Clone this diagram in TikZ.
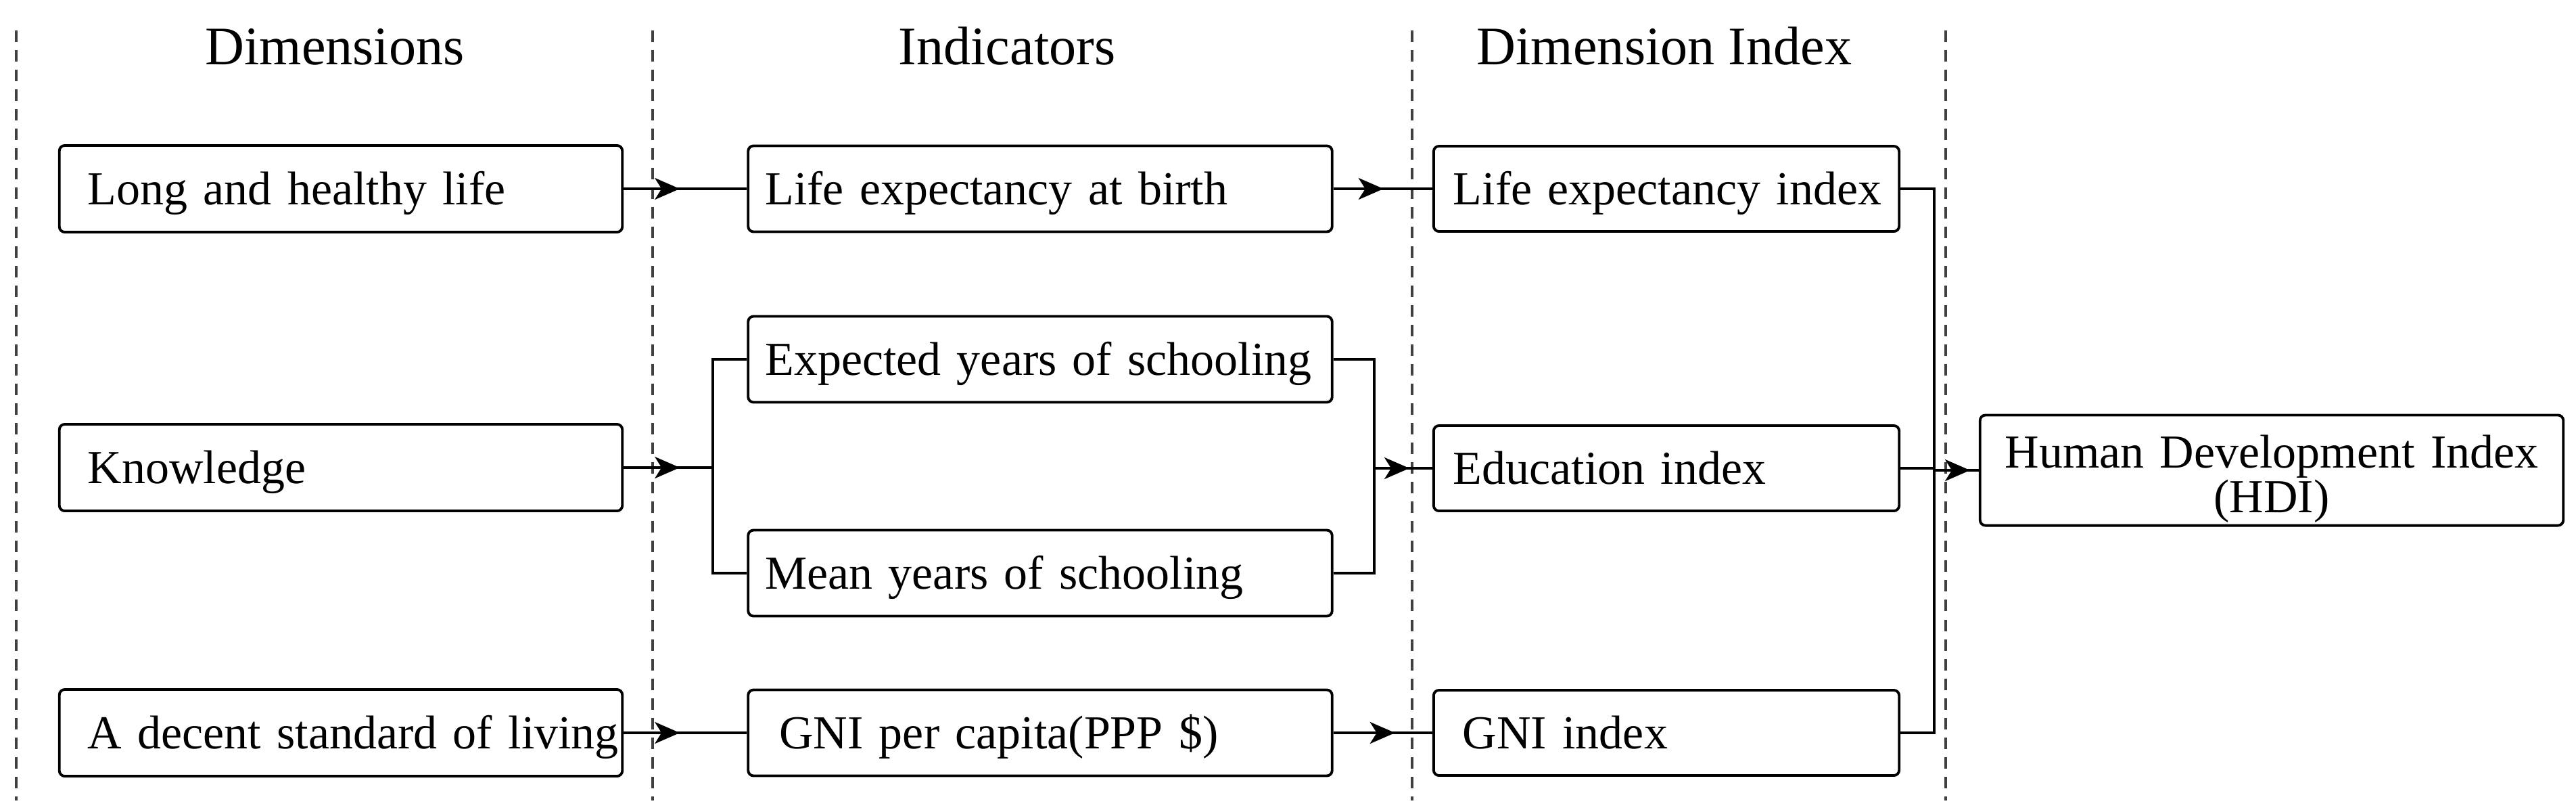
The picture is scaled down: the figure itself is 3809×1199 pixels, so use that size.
\documentclass[tikz,border=0pt]{standalone}
\usepackage{fontspec}
\setmainfont{Liberation Serif}
\usetikzlibrary{arrows.meta,decorations.markings}
\newcommand\dgbody{\fontsize{19.9}{18.8}\selectfont}
\newcommand\dghead{\fontsize{22.8}{27}\selectfont}
\begin{document}
\begin{tikzpicture}[x=0.01cm,y=-0.01cm,
  box/.style={draw=black, line width=1.1pt, rounded corners=0.8mm, inner xsep=0pt, inner ysep=0pt,
    align=left, text height=0.5cm, text depth=0.036cm, font=\dgbody},
  cA/.style={box, text width=8.32cm, minimum height=1.28cm},
  cB/.style={box, text width=8.63cm, minimum height=1.27cm},
  cC/.style={box, text width=6.88cm, minimum height=1.26cm},
  head/.style={font=\dghead, anchor=base, inner sep=0pt},
  sep/.style={dash pattern=on 0.17cm off 0.12cm, line width=1.1pt, black!75},
  conn/.style={line width=1pt, black},
  arrowat/.style={postaction={decorate}, decoration={markings,
    mark=at position #1 with {\arrow{Stealth[length=3.7mm,width=3.2mm,inset=1mm]}}}}
]
\useasboundingbox (0,0) rectangle (3809,1199);

% separators
\draw[sep] (24,45) -- (24,1183);
\draw[sep] (965,45) -- (965,1183);
\draw[sep] (2088,45) -- (2088,1183);
\draw[sep] (2877,45) -- (2877,1183);

% headers
\node[head] (h1) at (495,95) {Dimensions};
\node[head] (h2) at (1489,95) {Indicators};
\node[head] (h3) at (2461,95) {Dimension Index};

% column 1
\node[cA] (long) at (504,279) {\hspace*{0.42cm}Long and healthy life};
\node[cA] (know) at (504,691) {\hspace*{0.42cm}Knowledge};
\node[cA] (decent) at (504,1083) {\hspace*{0.42cm}A decent standard of living};

% column 2
\node[cB] (lifeb) at (1538,279) {\hspace*{0.25cm}Life expectancy at birth};
\node[cB] (expct) at (1538,531) {\hspace*{0.25cm}Expected years of schooling};
\node[cB] (mean) at (1538,847) {\hspace*{0.25cm}Mean years of schooling};
\node[cB] (gnipc) at (1538,1083) {\hspace*{0.46cm}GNI per capita(PPP \$)};

% column 3
\node[cC] (lifei) at (2464,279) {\hspace*{0.29cm}Life expectancy index};
\node[cC] (edui) at (2464,692) {\hspace*{0.29cm}Education index};
\node[cC] (gnii) at (2464,1083) {\hspace*{0.43cm}GNI index};

% HDI
\node[draw=black, line width=1.1pt, rounded corners=0.8mm, inner xsep=0pt, inner ysep=0pt,
  align=center, text width=8.62cm, minimum height=1.63cm, font=\dgbody,
  text height=0.5cm, text depth=0.57cm] (hdi) at (3359,695)
  {Human Development Index\\(HDI)};

% connectors
\coordinate (kb) at (1054,691);
\coordinate (em) at (2032,692);
\coordinate (hm) at (2860,695);

\draw[conn, arrowat=0.83cm] (long.east) -- (lifeb.west);
\draw[conn, arrowat=0.74cm] (lifeb.east) -- (lifei.west);

\draw[conn, arrowat=0.83cm] (know.east) -- (kb);
\draw[conn] (expct.west) -| (kb) |- (mean.west);
\draw[conn] (expct.east) -| (em) |- (mean.east);
\draw[conn, arrowat=0.52cm] (em) -- (edui.west);

\draw[conn, arrowat=0.83cm] (decent.east) -- (gnipc.west);
\draw[conn, arrowat=0.91cm] (gnipc.east) -- (gnii.west);

\draw[conn] (lifei.east) -| (hm) |- (gnii.east);
\draw[conn] (edui.east) -- (edui.east -| hm);
\draw[conn, arrowat=0.53cm] (hm) -- (hdi.west);
\end{tikzpicture}
\end{document}
